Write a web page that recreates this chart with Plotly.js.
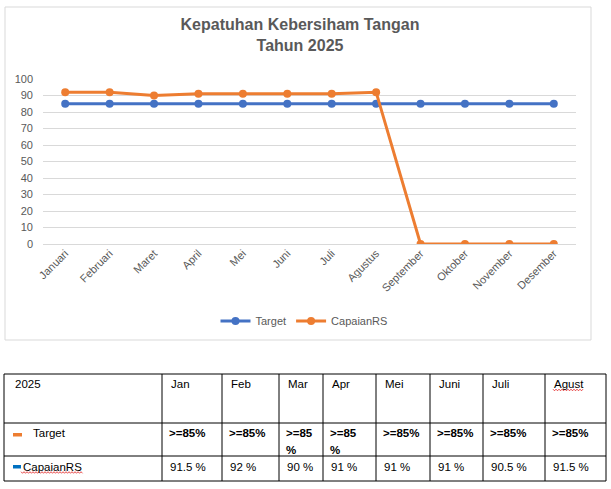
<!DOCTYPE html>
<html>
<head>
<meta charset="utf-8">
<script src="https://cdn.plot.ly/plotly-3.0.1.min.js"></script>
<style>html,body{margin:0;padding:0;background:#fff;}#chart{width:611px;height:489px;}</style>
</head>
<body>
<div id="chart"></div>
<script>
// ---- data ----
const months = ["Januari","Februari","Maret","April","Mei","Juni","Juli","Agustus","September","Oktober","November","Desember"];
const targetValues = [85,85,85,85,85,85,85,85,85,85,85,85];
const capaianValues = [92,92,90,91,91,91,91,92,0,0,0,0];
const tableYear = "2025";
const tableMonths = ["Jan","Feb","Mar","Apr","Mei","Juni","Juli","Agust"];
const tableTargetLabels = [">=85%",">=85%",">=85%",">=85%",">=85%",">=85%",">=85%",">=85%"];
const tableCapaianLabels = ["91.5 %","92 %","90 %","91 %","91 %","91 %","90.5 %","91.5 %"];
const seriesNames = ["Target","CapaianRS"];

// ---- layout geometry (pixels) ----
const W = 611, H = 489;
const L = 43, R = 576, T = 79, B = 244;
const fx = px => (px - L) / (R - L);
const fy = py => (B - py) / (B - T);
const FONT = "'Liberation Sans', Arial, sans-serif";
const GREY = "#595959";

const colEdges = [4, 162, 222, 279, 323, 376, 430, 483, 545, 606];
const rowEdges = [374, 423, 456, 481];
const wrappedCols = [2, 3]; // narrow columns where the target text wraps

const shapes = [];
const annotations = [];

// chart border
shapes.push({type:"rect", xref:"paper", yref:"paper", x0:fx(5), x1:fx(591), y0:fy(7), y1:fy(340),
  line:{color:"#d9d9d9", width:1}, fillcolor:"rgba(0,0,0,0)", layer:"below"});

// table grid
colEdges.forEach(c => shapes.push({type:"line", xref:"paper", yref:"paper",
  x0:fx(c), x1:fx(c), y0:fy(rowEdges[0]), y1:fy(rowEdges[rowEdges.length-1]), line:{color:"#000", width:1}}));
rowEdges.forEach(r => shapes.push({type:"line", xref:"paper", yref:"paper",
  x0:fx(colEdges[0]), x1:fx(colEdges[colEdges.length-1]), y0:fy(r), y1:fy(r), line:{color:"#000", width:1}}));

function txt(text, px, py, opts) {
  opts = opts || {};
  annotations.push({text:text, xref:"paper", yref:"paper", x:fx(px), y:fy(py),
    xanchor:"left", yanchor:"middle", showarrow:false,
    font:{family:FONT, size:opts.size||11.5, color:"#000", weight:opts.weight||"normal"}});
}
function wavy(x0, x1, py) {
  let d = "";
  let i = 0;
  for (let x = x0; x <= x1; x += 1.5, i++) {
    const y = py + (i % 2 === 0 ? -0.8 : 0.8);
    d += (i === 0 ? "M" : "L") + fx(x) + "," + fy(y);
  }
  shapes.push({type:"path", xref:"paper", yref:"paper", path:d, line:{color:"#e02020", width:0.8}});
}

const rowMid = [384, 433, 467];
txt(tableYear, 13, rowMid[0]);
// legend swatches in table
shapes.push({type:"rect", xref:"paper", yref:"paper", x0:fx(13), x1:fx(22), y0:fy(433), y1:fy(436.5),
  line:{width:0}, fillcolor:"#ED7D31"});
txt(seriesNames[0], 31, rowMid[1]);
shapes.push({type:"rect", xref:"paper", yref:"paper", x0:fx(13), x1:fx(21), y0:fy(465), y1:fy(468.5),
  line:{width:0}, fillcolor:"#0070C0"});
txt(seriesNames[1], 21, rowMid[2]);
wavy(21, 83, 472.5);

tableMonths.forEach((m, i) => {
  const left = colEdges[i+1];
  txt(m, left + 7, rowMid[0]);
  const t = tableTargetLabels[i];
  if (wrappedCols.indexOf(i) >= 0) {
    txt(t.slice(0, -1), left + 5, rowMid[1], {weight:"bold"});
    txt(t.slice(-1), left + 5, rowMid[1] + 17, {weight:"bold"});
  } else {
    txt(t, left + 5, rowMid[1], {weight:"bold"});
  }
  txt(tableCapaianLabels[i], left + 6, rowMid[2]);
  if (m === "Agust") wavy(left + 8, left + 39, 390);
});

const traces = [
  {x: months, y: targetValues, name: seriesNames[0], type:"scatter", mode:"lines+markers",
   line:{color:"#4472C4", width:3}, marker:{color:"#4472C4", size:8}},
  {x: months, y: capaianValues, name: seriesNames[1], type:"scatter", mode:"lines+markers",
   line:{color:"#ED7D31", width:3}, marker:{color:"#ED7D31", size:8}}
];

const layout = {
  width: W, height: H,
  margin: {l: L, r: W - R, t: T, b: H - B, pad: 0},
  paper_bgcolor: "#fff", plot_bgcolor: "#fff",
  title: {text: "<b>Kepatuhan Kebersiham Tangan</b><br><b>Tahun 2025</b>",
    xref:"container", yref:"container", x: 300/W, xanchor:"center", y: 1 - 30/H, yanchor:"top",
    font:{family:FONT, size:16, color:GREY}},
  xaxis: {type:"category", range:[-0.5, 11.5], showgrid:false, zeroline:false, showline:false,
    ticks:"", tickangle:-45, tickfont:{family:FONT, size:11, color:GREY}, fixedrange:true},
  yaxis: {range:[0, 100], dtick:10, tick0:0, showgrid:true, gridcolor:"#d9d9d9", gridwidth:1,
    zeroline:true, zerolinecolor:"#d9d9d9", zerolinewidth:1, showline:false, ticks:"",
    ticklabelstandoff:9, tickfont:{family:FONT, size:11, color:GREY}, fixedrange:true},
  showlegend: true,
  legend: {orientation:"h", xref:"paper", yref:"paper", x: fx(304), xanchor:"center", y: fy(321), yanchor:"middle",
    font:{family:FONT, size:11, color:GREY}, bgcolor:"rgba(0,0,0,0)", itemwidth:30},
  shapes: shapes,
  annotations: annotations
};

Plotly.newPlot("chart", traces, layout, {displayModeBar:false, staticPlot:true});
</script>
</body>
</html>
